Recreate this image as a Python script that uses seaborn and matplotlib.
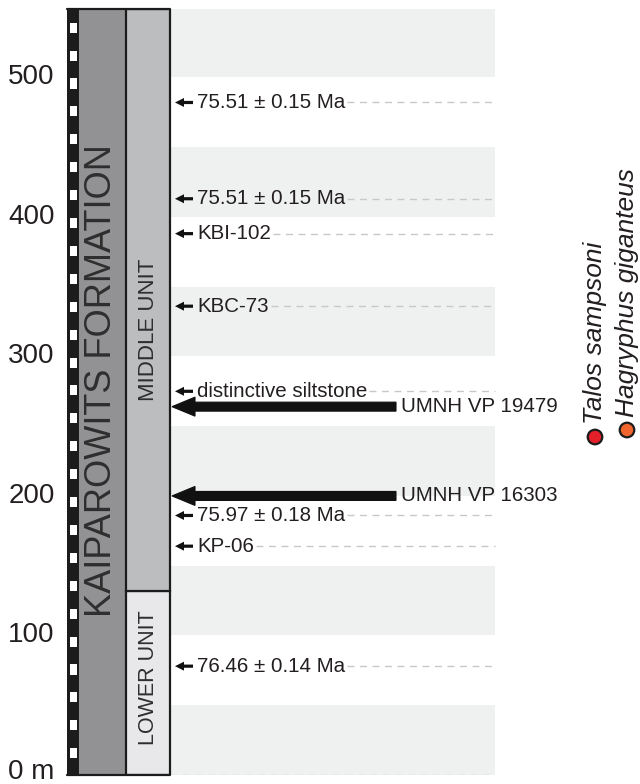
import matplotlib
matplotlib.use("Agg")
import matplotlib.pyplot as plt
from matplotlib.patches import Rectangle, FancyArrow
from matplotlib.transforms import ScaledTranslation
import numpy as np
import pandas as pd
import seaborn as sns

# ---------------- data ----------------
date_labels = ["75.51 ± 0.15 Ma", "75.51 ± 0.15 Ma", "KBI-102", "KBC-73",
               "distinctive siltstone", "75.97 ± 0.18 Ma", "KP-06", "76.46 ± 0.14 Ma"]
date_levels = [482, 413, 388, 336, 275, 186, 164, 78]

specimen_labels = ["UMNH VP 19479", "UMNH VP 16303"]
specimen_levels = [264, 200]

unit_names = ["LOWER UNIT", "MIDDLE UNIT"]
unit_bottoms = [0, 132]
unit_tops = [132, 549]
unit_colors = ["#e8e8ea", "#bcbdbf"]

formation_name = "KAIPAROWITS FORMATION"
section_top = 549

band_starts = [0, 100, 200, 300, 400, 500]
band_height = 50

ytick_values = [0, 100, 200, 300, 400, 500]
ytick_labels = ["0 m", "100", "200", "300", "400", "500"]

taxa = ["Talos sampsoni", "Hagryphus giganteus"]
taxa_colors = ["#e3202a", "#f0652d"]

# ---------------- style ----------------
sns.set_theme(style="white")
plt.rcParams["font.family"] = ["Liberation Sans", "DejaVu Sans"]
TXT = "#231f20"

W, H = 640, 784
fig = plt.figure(figsize=(W / 100, H / 100), dpi=100)
fig.patch.set_facecolor("white")

# axes: x in pixel-like units 67..500, y in metres
x0, x1 = 67, 500
ybot, ytop = 775, 9
ax = fig.add_axes([x0 / W, (H - ybot) / H, (x1 - x0) / W, (ybot - ytop) / H])
ax.set_xlim(x0, x1)
ax.set_ylim(0, section_top)
ax.set_facecolor("none")
for s in ax.spines.values():
    s.set_visible(False)
ax.set_xticks([])
ax.set_yticks(ytick_values)
ax.set_yticklabels(ytick_labels, fontsize=20, color=TXT)
ax.tick_params(axis="y", length=0, pad=9)
ax.grid(False)
for i, lab in enumerate(ax.get_yticklabels()):
    dy = 6 if i == 0 else 3
    lab.set_transform(lab.get_transform() +
                      ScaledTranslation(0, dy / 100, fig.dpi_scale_trans))

px_per_m = (ybot - ytop) / section_top

# background bands
band_x0, band_x1 = 170, 495
for b in band_starts:
    top = min(b + band_height, section_top)
    ax.add_patch(Rectangle((band_x0, b), band_x1 - band_x0, top - b,
                           facecolor="#eff0f0", edgecolor="none", zorder=0))

# scale bar
ax.add_patch(Rectangle((67, 0), 11, section_top, facecolor="#1c1c1c",
                       edgecolor="none", zorder=2))
for s0 in np.arange(12, section_top - 8, 20):
    ax.add_patch(Rectangle((69.5, s0), 7, 7.2, facecolor="white",
                           edgecolor="none", zorder=3))

# formation column
ax.add_patch(Rectangle((78, 0), 48, section_top, facecolor="#929294",
                       edgecolor="#1c1c1c", lw=1.4, zorder=2))
ax.text(102, 283, formation_name, rotation=90, ha="center", va="center",
        fontsize=26, color="#2e2e2e", zorder=4)

# units
for name, b, t, c in zip(unit_names, unit_bottoms, unit_tops, unit_colors):
    ax.add_patch(Rectangle((126, b), 44, t - b, facecolor=c,
                           edgecolor="#1c1c1c", lw=1.6, zorder=2))
unit_label_y = [70, 319]
unit_label_fs = [15.5, 16]
for name, ly, fs in zip(unit_names, unit_label_y, unit_label_fs):
    ax.text(148, ly, name, rotation=90, ha="center", va="center",
            fontsize=fs, color="#2e2e2e", zorder=4)

# outer frame lines
ax.plot([67, 170], [section_top, section_top], color="#1c1c1c", lw=1.6, zorder=5,
        clip_on=False)
ax.plot([67, 170], [0, 0], color="#1c1c1c", lw=1.6, zorder=5, clip_on=False)

dash_kw = dict(color="#c8c8c8", lw=1.0, dashes=(5, 4), zorder=1)
ax.plot([170, band_x1], [0, 0], **dash_kw)

fig.canvas.draw()
renderer = fig.canvas.get_renderer()
inv = ax.transData.inverted()

# small arrows + labels + dashed guides
for lab, lvl in zip(date_labels, date_levels):
    ax.add_patch(FancyArrow(193, lvl, -18, 0, width=3.2 / px_per_m,
                            head_width=9 / px_per_m, head_length=9,
                            length_includes_head=True, color="#111111",
                            lw=0, zorder=5))
    t = ax.text(197, lvl, lab, ha="left", va="center", fontsize=14.8,
                color=TXT, zorder=5)
    bb = t.get_window_extent(renderer)
    xe = inv.transform((bb.x1, bb.y0))[0]
    ax.plot([xe + 2, band_x1], [lvl, lvl], **dash_kw)

# specimen arrows
for lab, lvl in zip(specimen_labels, specimen_levels):
    ax.add_patch(FancyArrow(396, lvl, -224, 0, width=9 / px_per_m,
                            head_width=19 / px_per_m, head_length=23,
                            length_includes_head=True, facecolor="#111111",
                            edgecolor="#111111", lw=0.8, zorder=6))
    ax.text(401, lvl, lab, ha="left", va="center", fontsize=14.8,
            color=TXT, zorder=6, clip_on=False)

# taxon legend (right side)
lax = fig.add_axes([0, 0, 1, 1])
lax.patch.set_alpha(0)
leg = pd.DataFrame({"x": [595, 627], "y": [437, 430], "taxon": taxa})
sns.scatterplot(data=leg, x="x", y="y", hue="taxon", palette=taxa_colors,
                s=110, edgecolor="#1c1c1c", linewidth=1.6, legend=False, ax=lax)
lax.set_xlim(0, W)
lax.set_ylim(H, 0)
lax.axis("off")
for (_, r) in leg.iterrows():
    lax.text(r["x"], r["y"] - 13, r["taxon"], rotation=90, rotation_mode="anchor",
             ha="left", va="center", fontsize=19, style="italic", color=TXT)

fig.savefig("out.png", dpi=100)
